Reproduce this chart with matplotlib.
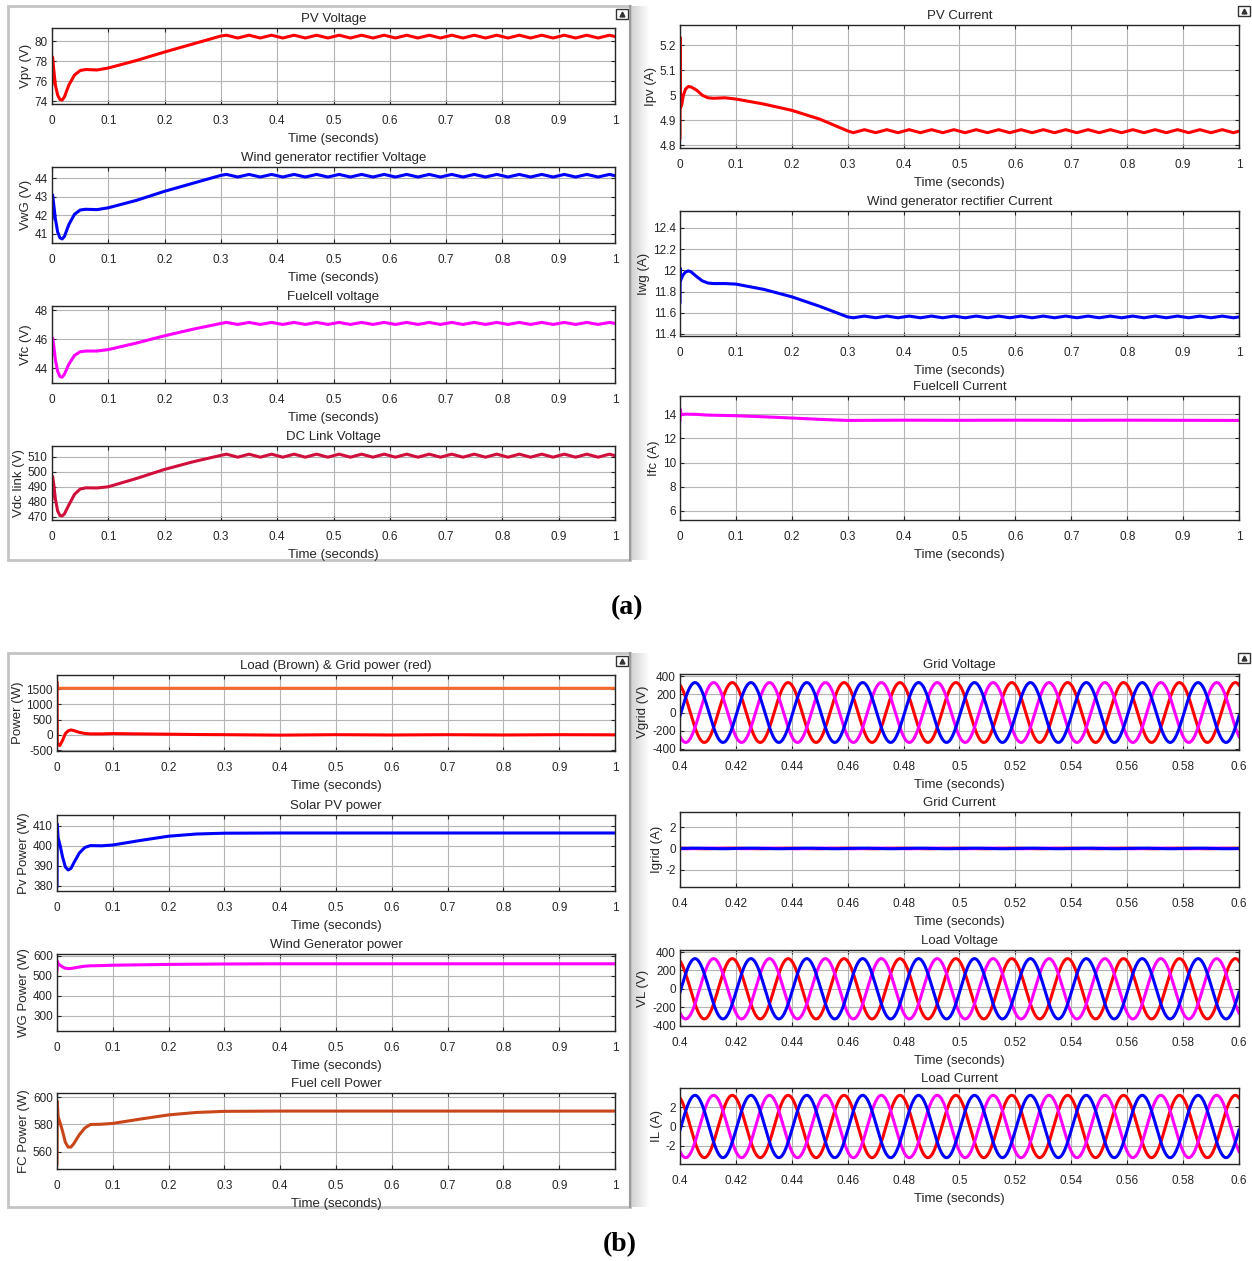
import numpy as np
import matplotlib
matplotlib.use('Agg')
import matplotlib.pyplot as plt
from matplotlib.patches import Rectangle

plt.rcParams['font.family'] = ['Liberation Sans', 'DejaVu Sans']

# ---------------- data ----------------
# (a) transient part of the DC side signals
t_v = [0, 0.001, 0.003, 0.006, 0.01, 0.014, 0.018, 0.022, 0.03, 0.04,
       0.05, 0.06, 0.08, 0.1, 0.15, 0.2, 0.25, 0.3]
vpv = [75.7, 78.4, 77.2, 75.6, 74.6, 74.15, 74.1, 74.4, 75.6, 76.6,
       77.05, 77.15, 77.1, 77.3, 78.05, 78.9, 79.7, 80.5]
vwg = [41.8, 43.1, 42.6, 41.8, 41.1, 40.78, 40.72, 40.85, 41.5, 42.05,
       42.28, 42.32, 42.3, 42.4, 42.8, 43.29, 43.72, 44.15]
vfc = [45.0, 46.1, 45.6, 44.6, 43.8, 43.45, 43.4, 43.6, 44.3, 44.9,
       45.15, 45.2, 45.2, 45.3, 45.75, 46.25, 46.7, 47.1]
vdc = [482, 497, 492, 482, 474, 471, 470.7, 472, 478, 485,
       488.5, 489.3, 489.2, 490, 495.5, 501.5, 506.5, 510.8]

t_i = [0, 0.0003, 0.0008, 0.003, 0.006, 0.01, 0.015, 0.02, 0.03, 0.04,
       0.05, 0.06, 0.08, 0.1, 0.15, 0.2, 0.25, 0.3]
ipv = [4.83, 5.23, 4.95, 4.96, 5.0, 5.025, 5.035, 5.033, 5.02, 5.0,
       4.99, 4.988, 4.99, 4.985, 4.965, 4.94, 4.905, 4.858]
iwg = [11.7, 12.02, 11.9, 11.93, 11.96, 11.985, 11.995, 11.985, 11.94, 11.9,
       11.88, 11.875, 11.875, 11.87, 11.82, 11.75, 11.66, 11.56]

# ripple after 0.3 s, one value at each peak / trough (every 0.02 s), then t=1
t_rip = [0.31, 0.33, 0.35, 0.37, 0.39, 0.41, 0.43, 0.45, 0.47, 0.49, 0.51, 0.53,
         0.55, 0.57, 0.59, 0.61, 0.63, 0.65, 0.67, 0.69, 0.71, 0.73, 0.75, 0.77,
         0.79, 0.81, 0.83, 0.85, 0.87, 0.89, 0.91, 0.93, 0.95, 0.97, 0.99, 1.0]
vpv_rip = [80.58, 80.3, 80.58, 80.3, 80.58, 80.3, 80.58, 80.3, 80.58, 80.3, 80.58, 80.3,
           80.58, 80.3, 80.58, 80.3, 80.58, 80.3, 80.58, 80.3, 80.58, 80.3, 80.58, 80.3,
           80.58, 80.3, 80.58, 80.3, 80.58, 80.3, 80.58, 80.3, 80.58, 80.3, 80.58, 80.45]
vwg_rip = [44.2, 44.06, 44.2, 44.06, 44.2, 44.06, 44.2, 44.06, 44.2, 44.06, 44.2, 44.06,
           44.2, 44.06, 44.2, 44.06, 44.2, 44.06, 44.2, 44.06, 44.2, 44.06, 44.2, 44.06,
           44.2, 44.06, 44.2, 44.06, 44.2, 44.06, 44.2, 44.06, 44.2, 44.06, 44.2, 44.13]
vfc_rip = [47.17, 47.03, 47.17, 47.03, 47.17, 47.03, 47.17, 47.03, 47.17, 47.03, 47.17, 47.03,
           47.17, 47.03, 47.17, 47.03, 47.17, 47.03, 47.17, 47.03, 47.17, 47.03, 47.17, 47.03,
           47.17, 47.03, 47.17, 47.03, 47.17, 47.03, 47.17, 47.03, 47.17, 47.03, 47.17, 47.1]
vdc_rip = [511.6, 509.6, 511.6, 509.6, 511.6, 509.6, 511.6, 509.6, 511.6, 509.6, 511.6, 509.6,
           511.6, 509.6, 511.6, 509.6, 511.6, 509.6, 511.6, 509.6, 511.6, 509.6, 511.6, 509.6,
           511.6, 509.6, 511.6, 509.6, 511.6, 509.6, 511.6, 509.6, 511.6, 509.6, 511.6, 510.6]
ipv_rip = [4.851, 4.863, 4.851, 4.863, 4.851, 4.863, 4.851, 4.863, 4.851, 4.863, 4.851, 4.863,
           4.851, 4.863, 4.851, 4.863, 4.851, 4.863, 4.851, 4.863, 4.851, 4.863, 4.851, 4.863,
           4.851, 4.863, 4.851, 4.863, 4.851, 4.863, 4.851, 4.863, 4.851, 4.863, 4.851, 4.857]
iwg_rip = [11.552, 11.568, 11.552, 11.568, 11.552, 11.568, 11.552, 11.568, 11.552, 11.568,
           11.552, 11.568, 11.552, 11.568, 11.552, 11.568, 11.552, 11.568, 11.552, 11.568,
           11.552, 11.568, 11.552, 11.568, 11.552, 11.568, 11.552, 11.568, 11.552, 11.568,
           11.552, 11.568, 11.552, 11.568, 11.552, 11.56]

t_fc = [0, 0.0005, 0.002, 0.01, 0.03, 0.05, 0.1, 0.15, 0.2, 0.25, 0.3,
        0.4, 0.5, 0.6, 0.7, 0.8, 0.9, 1.0]
ifc = [13.5, 14.4, 13.95, 14.0, 13.98, 13.92, 13.87, 13.78, 13.68, 13.57, 13.48,
       13.5, 13.49, 13.5, 13.49, 13.5, 13.49, 13.48]

# (b) powers
t_p = [0, 0.0005, 0.002, 0.005, 0.01, 0.015, 0.02, 0.025, 0.03, 0.04, 0.05, 0.06,
       0.08, 0.1, 0.15, 0.2, 0.25, 0.3, 0.4, 0.5, 0.6, 0.7, 0.8, 0.9, 1.0]
p_load = [1700, 1525, 1525, 1525, 1525, 1525, 1525, 1525, 1525, 1525, 1525, 1525,
          1525, 1525, 1525, 1525, 1525, 1525, 1525, 1525, 1525, 1525, 1525, 1525, 1525]
p_grid = [1700, -250, -330, -350, -180, 40, 130, 160, 140, 80, 45, 30,
          30, 40, 30, 20, 10, 5, -10, 5, -5, 5, -5, 5, 0]
p_pv = [380, 411, 404, 401, 394.5, 389.5, 388, 388.8, 391.5, 396.5, 399.3, 400.2,
        400.1, 400.5, 402.8, 404.9, 406.0, 406.4, 406.5, 406.5, 406.5, 406.5, 406.5, 406.5, 406.5]
p_wg = [530, 575, 562, 555, 545, 539, 537, 537.5, 540, 545, 549, 551,
        552, 554, 556, 558, 559, 560, 561, 561, 561, 561, 561, 561, 561]
p_fc = [551, 597, 585.5, 582, 575, 567, 563.5, 563.5, 566, 572.5, 577.5, 580,
        580.2, 580.8, 584, 587, 588.8, 589.6, 589.8, 589.8, 589.8, 589.8, 589.8, 589.8, 589.8]

# (b) three phase AC quantities: peak value, frequency (Hz), phase angle (deg) of a, b, c
f_grid = 50.0
phase_deg = [113.4, -126.6, -6.6]      # red, magenta, blue
phase_col = ['red', 'magenta', 'blue']
vgrid_peak = 328.0
igrid_peak = 0.03
vload_peak = 328.0
iload_peak = 3.2

# ---------------- figure ----------------
W, H = 1252, 1261
fig = plt.figure(figsize=(W / 100, H / 100), dpi=100)

bg = fig.add_axes([0, 0, 1, 1])
bg.set_xlim(0, W)
bg.set_ylim(H, 0)
bg.axis('off')

# panel frames like the Simulink scope windows
for y0, y1 in [(6, 560), (653, 1207)]:
    bg.add_patch(Rectangle((8, y0), 622, y1 - y0, fill=False, ec='#c4c4c4', lw=2))
    bg.plot([629.5, 629.5], [y0, y1], color='#9a9a9a', lw=1.5)
    grad = np.linspace(0.82, 1.0, 20)[None, :]
    bg.imshow(grad, extent=[631, 650, y1, y0], cmap='gray', vmin=0, vmax=1, aspect='auto')
for x0, y0 in [(616, 9), (1238, 6), (616, 656), (1238, 653)]:
    bg.add_patch(Rectangle((x0, y0), 12, 10, fill=False, ec='#333333', lw=1))
    bg.plot([x0 + 6], [y0 + 5], marker='^', ms=3.5, color='#333333')
bg.text(627, 608, '(a)', fontsize=20, fontweight='bold', family='Liberation Serif',
        ha='center', va='center')
bg.text(620, 1245, '(b)', fontsize=20, fontweight='bold', family='Liberation Serif',
        ha='center', va='center')

dark = '#262626'


def px_axes(x0, y0, x1, y1):
    return fig.add_axes([x0 / W, 1 - y1 / H, (x1 - x0) / W, (y1 - y0) / H])


def style(ax, title, ylabel, ylim, yticks, ac=False):
    if ac:
        ax.set_xlim(0.4, 0.6)
        xt = [0.4, 0.42, 0.44, 0.46, 0.48, 0.5, 0.52, 0.54, 0.56, 0.58, 0.6]
    else:
        ax.set_xlim(0, 1)
        xt = [0, 0.1, 0.2, 0.3, 0.4, 0.5, 0.6, 0.7, 0.8, 0.9, 1]
    ax.set_xticks(xt)
    ax.set_xticklabels(['%g' % v for v in xt])
    ax.set_ylim(*ylim)
    ax.set_yticks(yticks)
    ax.set_yticklabels(['%g' % v for v in yticks])
    ax.grid(True, color='#b4b4b4', lw=0.8)
    ax.set_axisbelow(True)
    ax.tick_params(direction='in', top=True, right=True, length=3, width=0.8,
                   labelsize=8.5, colors=dark)
    ax.tick_params(axis='x', pad=8)
    ax.tick_params(axis='y', pad=3)
    for s in ax.spines.values():
        s.set_color(dark)
        s.set_linewidth(1.0)
    ax.set_title(title, fontsize=9.5, pad=4, color=dark)
    ax.set_xlabel('Time (seconds)', fontsize=9.5, labelpad=4, color=dark)
    ax.set_ylabel(ylabel, fontsize=9.5, color=dark, labelpad=2)


lw = 2.2

# ---- (a) left ----
ax = px_axes(52, 28, 615, 104)
ax.plot(t_v + t_rip, vpv + vpv_rip, color='red', lw=lw)
style(ax, 'PV Voltage', 'Vpv (V)', (73.7, 81.3), [74, 76, 78, 80])

ax = px_axes(52, 167, 615, 243)
ax.plot(t_v + t_rip, vwg + vwg_rip, color='blue', lw=lw)
style(ax, 'Wind generator rectifier Voltage', 'VwG (V)', (40.5, 44.6), [41, 42, 43, 44])

ax = px_axes(52, 306, 615, 383)
ax.plot(t_v + t_rip, vfc + vfc_rip, color='magenta', lw=lw)
style(ax, 'Fuelcell voltage', 'Vfc (V)', (43.0, 48.3), [44, 46, 48])

ax = px_axes(52, 446, 615, 520)
ax.plot(t_v + t_rip, vdc + vdc_rip, color='#d0103a', lw=lw)
style(ax, 'DC Link Voltage', 'Vdc link (V)', (468, 517), [470, 480, 490, 500, 510])

# ---- (a) right ----
ax = px_axes(680, 25, 1239, 148)
ax.plot(t_i + t_rip, ipv + ipv_rip, color='red', lw=lw)
style(ax, 'PV Current', 'Ipv (A)', (4.79, 5.28), [4.8, 4.9, 5, 5.1, 5.2])

ax = px_axes(680, 211, 1239, 336)
ax.plot(t_i + t_rip, iwg + iwg_rip, color='blue', lw=lw)
style(ax, 'Wind generator rectifier Current', 'Iwg (A)', (11.38, 12.56),
      [11.4, 11.6, 11.8, 12, 12.2, 12.4])

ax = px_axes(680, 396, 1239, 520)
ax.plot(t_fc, ifc, color='magenta', lw=lw)
style(ax, 'Fuelcell Current', 'Ifc (A)', (5.25, 15.5), [6, 8, 10, 12, 14])

# ---- (b) left ----
ax = px_axes(57, 675, 615, 751)
ax.plot(t_p, p_load, color='#f46a2c', lw=lw)
ax.plot(t_p, p_grid, color='red', lw=lw)
style(ax, 'Load (Brown) & Grid power (red)', 'Power (W)', (-530, 1960),
      [-500, 0, 500, 1000, 1500])

ax = px_axes(57, 815, 615, 891)
ax.plot(t_p, p_pv, color='blue', lw=lw)
style(ax, 'Solar PV power', 'Pv Power (W)', (377.5, 415.5), [380, 390, 400, 410])

ax = px_axes(57, 954, 615, 1031)
ax.plot(t_p, p_wg, color='magenta', lw=lw)
style(ax, 'Wind Generator power', 'WG Power (W)', (225, 610), [300, 400, 500, 600])

ax = px_axes(57, 1093, 615, 1169)
ax.plot(t_p, p_fc, color='#c8461a', lw=lw)
style(ax, 'Fuel cell Power', 'FC Power (W)', (547.5, 603), [560, 580, 600])

# ---- (b) right : three phase ----
t_ac = np.linspace(0.4, 0.6, 2001)
w = 2 * np.pi * f_grid


def three_phase(ax, peak):
    for ph, col in zip(phase_deg, phase_col):
        ax.plot(t_ac, peak * np.sin(w * t_ac + np.deg2rad(ph)), color=col, lw=lw)


ax = px_axes(680, 674, 1239, 750)
three_phase(ax, vgrid_peak)
style(ax, 'Grid Voltage', 'Vgrid (V)', (-411, 422), [-400, -200, 0, 200, 400], ac=True)

ax = px_axes(680, 812, 1239, 887)
three_phase(ax, igrid_peak)
style(ax, 'Grid Current', 'Igrid (A)', (-3.6, 3.4), [-2, 0, 2], ac=True)

ax = px_axes(680, 950, 1239, 1026)
three_phase(ax, vload_peak)
style(ax, 'Load Voltage', 'VL (V)', (-405, 422), [-400, -200, 0, 200, 400], ac=True)

ax = px_axes(680, 1088, 1239, 1164)
three_phase(ax, iload_peak)
style(ax, 'Load Current', 'IL (A)', (-3.85, 3.95), [-2, 0, 2], ac=True)

fig.savefig('out.png', dpi=100)
